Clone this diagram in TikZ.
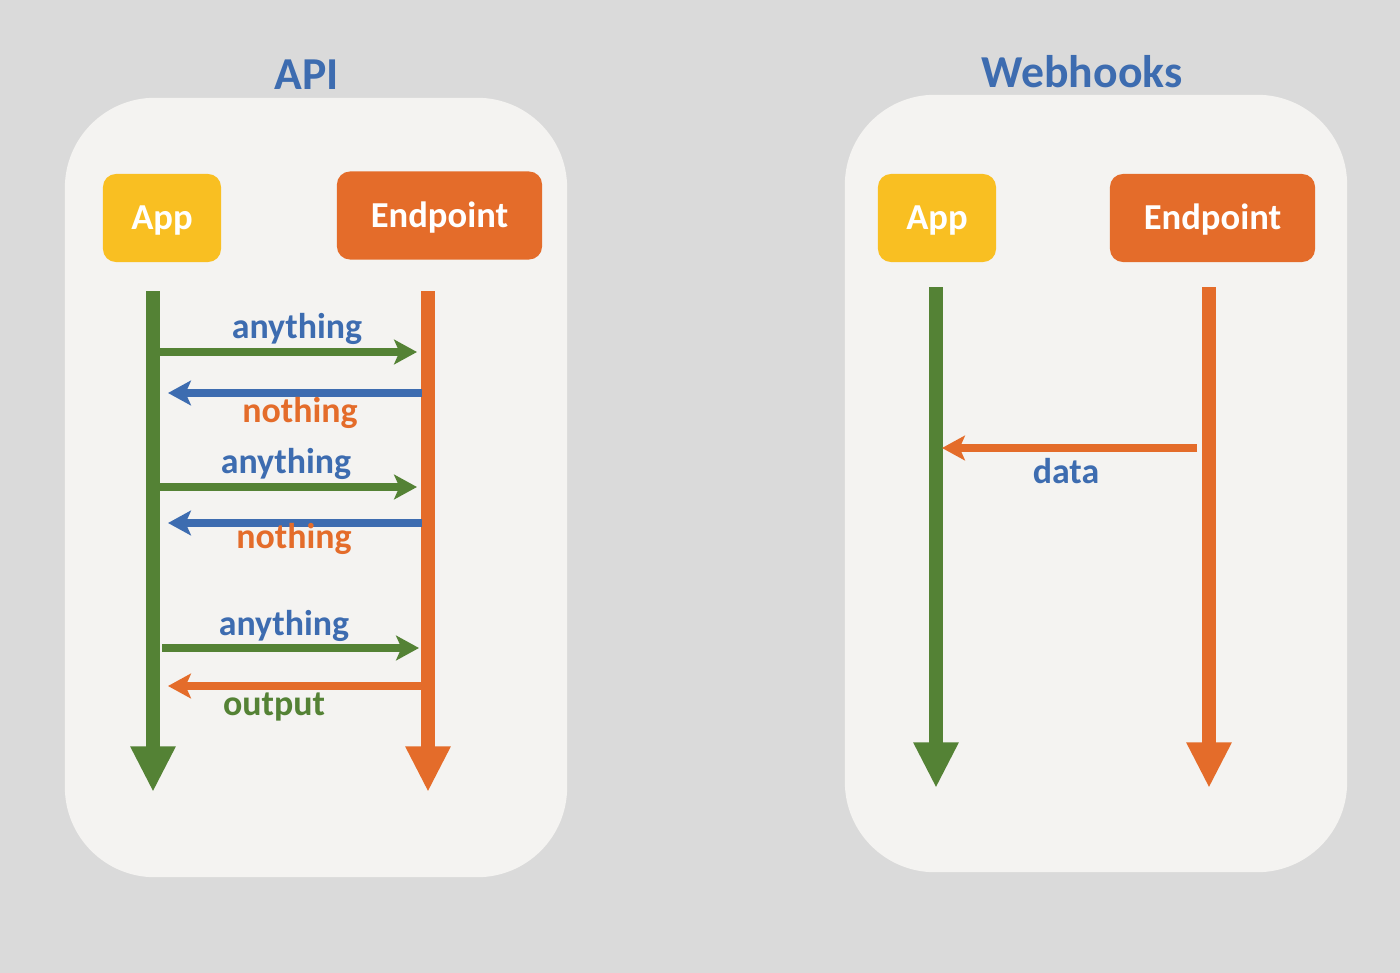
\documentclass[tikz,border=0pt]{standalone}
\usepackage{fontspec}
\setmainfont{Carlito}
\usetikzlibrary{arrows.meta}
\definecolor{bgGray}{HTML}{DADADA}
\definecolor{panelWhite}{HTML}{F4F3F1}
\definecolor{appYellow}{HTML}{F9BF22}
\definecolor{endOrange}{HTML}{E46C2A}
\definecolor{appGreen}{HTML}{548235}
\definecolor{txtBlue}{HTML}{3D6CB0}

\begin{document}
\begin{tikzpicture}[x=0.01cm,y=-0.01cm,
  panel/.style={fill=panelWhite, rounded corners=0.9cm, inner sep=0pt},
  actor/.style={fill=#1, rounded corners=0.13cm, text=white, inner sep=0pt,
    text height=6.8pt, text depth=0pt,
    font=\bfseries\fontsize{10.4}{12}\selectfont, minimum height=0.88cm},
  life/.style={draw=#1, line width=4pt, -{Triangle[length=13pt,width=12pt]}},
  msg/.style={draw=#1, line width=2pt, -{Stealth[length=6.5pt,width=7pt,inset=1.5pt]}},
  lbl/.style={text=#1, anchor=base, inner sep=0pt, font=\bfseries\fontsize{10.2}{12}\selectfont},
  heading/.style={text=txtBlue, anchor=base, inner sep=0pt, font=\bfseries\fontsize{13}{15}\selectfont}]
\fill[bgGray] (0,0) rectangle (1400,973);
\useasboundingbox (0,0) rectangle (1400,973);

% panels and titles
\node[panel, minimum width=5.02cm, minimum height=7.79cm] (apiPanel) at (316,487.5) {};
\node[panel, minimum width=5.02cm, minimum height=7.77cm] (hookPanel) at (1096,483.5) {};
\node[heading] (apiTitle) at (307,90) {API};
\node[heading] (hookTitle) at (1082,88) {Webhooks};

% API side
\node[actor=appYellow, minimum width=1.18cm] (apiApp) at (162,218) {App};
\node[actor=endOrange, minimum width=2.05cm] (apiEnd) at (439.5,215.5) {Endpoint};
\coordinate (apiAppTop) at (153,291);
\coordinate (apiAppBot) at (153,792);
\coordinate (apiEndTop) at (428,291);
\coordinate (apiEndBot) at (428,792);
\draw[life=appGreen] (apiAppTop) -- (apiAppBot);
\draw[life=endOrange] (apiEndTop) -- (apiEndBot);

\coordinate (s1) at (160,352);
\coordinate (e1) at (417,352);
\coordinate (s2) at (422,393);
\coordinate (e2) at (168,393);
\coordinate (s3) at (160,487);
\coordinate (e3) at (417,487);
\coordinate (s4) at (422,523);
\coordinate (e4) at (168,523);
\coordinate (s5) at (162,648);
\coordinate (e5) at (419,648);
\coordinate (s6) at (422,686);
\coordinate (e6) at (168,686);
\draw[msg=appGreen] (s1) -- (e1);
\draw[msg=txtBlue] (s2) -- (e2);
\draw[msg=appGreen] (s3) -- (e3);
\draw[msg=txtBlue] (s4) -- (e4);
\draw[msg=appGreen] (s5) -- (e5);
\draw[msg=endOrange] (s6) -- (e6);
\node[lbl=txtBlue] (l1) at (297,338) {anything};
\node[lbl=endOrange] (l2) at (300,422) {nothing};
\node[lbl=txtBlue] (l3) at (286,473) {anything};
\node[lbl=endOrange] (l4) at (294,548) {nothing};
\node[lbl=txtBlue] (l5) at (284,635) {anything};
\node[lbl=appGreen] (l6) at (274,715) {output};

% Webhooks side
\node[actor=appYellow, minimum width=1.18cm] (hookApp) at (937,218) {App};
\node[actor=endOrange, minimum width=2.05cm] (hookEnd) at (1212.5,218) {Endpoint};
\coordinate (hookAppTop) at (936,287);
\coordinate (hookAppBot) at (936,788);
\coordinate (hookEndTop) at (1209,287);
\coordinate (hookEndBot) at (1209,788);
\draw[life=appGreen] (hookAppTop) -- (hookAppBot);
\draw[life=endOrange] (hookEndTop) -- (hookEndBot);
\coordinate (sd) at (1197,448);
\coordinate (ed) at (942,448);
\draw[msg=endOrange] (sd) -- (ed);
\node[lbl=txtBlue] (ld) at (1066,483) {data};
\end{tikzpicture}
\end{document}
